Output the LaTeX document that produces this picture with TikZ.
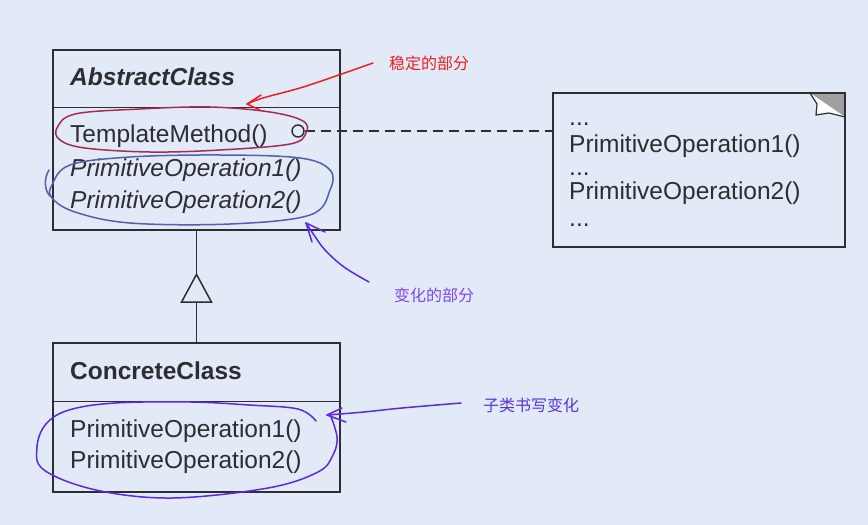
\documentclass[tikz,border=0pt]{standalone}
\usepackage{fontspec}
\setmainfont{Liberation Sans}
\newfontfamily\cjk{Noto Sans CJK SC}
\usetikzlibrary{arrows.meta}
\definecolor{bg}{RGB}{226,233,247}
\definecolor{ink}{RGB}{45,45,50}
\definecolor{penred}{RGB}{238,30,30}
\definecolor{penmaroon}{RGB}{165,45,85}
\definecolor{penblue}{RGB}{85,95,170}
\definecolor{penviolet}{RGB}{90,40,230}
\definecolor{txtviolet}{RGB}{125,70,240}
\definecolor{txtviolet2}{RGB}{90,50,220}
\tikzset{
  umlbox/.style={draw=ink, line width=1.5pt, rectangle, inner sep=0pt},
  lbl/.style={anchor=base west, inner sep=0pt, text=ink, font=\fontsize{24.5}{29}\selectfont},
  note/.style={anchor=west, inner sep=0pt, font=\cjk\fontsize{16}{19}\selectfont},
  pen/.style={line width=1.5pt, line cap=round, line join=round},
}
\begin{document}
\begin{tikzpicture}[x=1pt,y=-1pt]
\fill[bg] (0,0) rectangle (868,525);
\useasboundingbox (0,0) rectangle (868,525);

% AbstractClass box
\node[umlbox, minimum width=287pt, minimum height=180pt] (abs) at (196.5,140) {};
\coordinate (absdl) at (53,107.5);
\coordinate (absdr) at (340,107.5);
\draw[ink, line width=1.5pt] (absdl) -- (absdr);
\node[lbl, font=\fontsize{24.5}{29}\selectfont\bfseries\itshape] (absname) at (70,85) {AbstractClass};
\node[lbl] (tm) at (70,142) {TemplateMethod()};
\node[lbl, font=\fontsize{24.5}{29}\selectfont\itshape] (po1a) at (70,176) {PrimitiveOperation1()};
\node[lbl, font=\fontsize{24.5}{29}\selectfont\itshape] (po2a) at (70,208) {PrimitiveOperation2()};
\node[circle, draw=ink, line width=1.4pt, minimum size=12pt, inner sep=0pt] (tmc) at (298,131) {};

% ConcreteClass box
\node[umlbox, minimum width=287pt, minimum height=149pt] (conc) at (196.5,417.5) {};
\coordinate (condl) at (53,401.5);
\coordinate (condr) at (340,401.5);
\draw[ink, line width=1.5pt] (condl) -- (condr);
\node[lbl, font=\fontsize{24.5}{29}\selectfont\bfseries] (concname) at (70,379) {ConcreteClass};
\node[lbl] (po1c) at (70,437) {PrimitiveOperation1()};
\node[lbl] (po2c) at (70,468) {PrimitiveOperation2()};

% inheritance
\coordinate (apex) at ([yshift=-42pt]abs.south);
\draw[ink, line width=1.5pt] (abs.south) -- (apex);
\draw[ink, line width=1.5pt, -{Triangle[open, length=30pt, width=32pt, line width=1.5pt]}] (conc.north) -- (apex);

% note
\node[umlbox, minimum width=292pt, minimum height=154pt] (nt) at (699,170) {};
\fill[gray!75] (810,93) -- (845,93) -- (845,117) -- cycle;
\draw[ink, line width=1.2pt, fill=white!85!bg] (810,93) -- (817,104) -- (816,115) -- (829,113) -- (845,117);
\draw[ink, line width=1.5pt] (810,93) -- (845,93) -- (845,117);
\node[lbl] (d1) at (569,125) {...};
\node[lbl] (n1) at (569,152) {PrimitiveOperation1()};
\node[lbl] (d2) at (569,175) {...};
\node[lbl] (n2) at (569,199) {PrimitiveOperation2()};
\node[lbl] (d3) at (569,226) {...};
\draw[ink, line width=1.5pt, dash pattern=on 10pt off 6pt] (tmc.east) -- (tmc.east -| nt.west);

% hand annotations
\draw[penmaroon, pen] plot[smooth cycle, tension=0.6] coordinates {(57,128) (75,114) (140,109) (210,107) (270,112) (303,121) (306,133) (290,144) (220,150) (150,152) (85,148) (60,140)};
\draw[penblue, pen] plot[smooth cycle, tension=0.6] coordinates {(52,185) (70,165) (130,157) (220,155) (300,158) (330,170) (330,190) (310,215) (230,224) (130,223) (75,212) (52,198)};
\draw[penblue, pen] (49,170) .. controls (44,178) and (44,190) .. (50,196);

\coordinate (r0) at (373,63);
\coordinate (rt) at (247,104);
\draw[penred, pen] plot[smooth, tension=0.6] coordinates {(r0) (333,77) (300,88) (263,98) (rt)};
\draw[penred, pen] (rt) -- (261,95);
\draw[penred, pen] (rt) -- (260,110);
\node[note, text=penred] (t1) at (389,63) {稳定的部分};

\coordinate (v0) at (369,282);
\coordinate (vt) at (306,223);
\draw[penviolet, pen] plot[smooth, tension=0.6] coordinates {(v0) (344,267) (325,250) (314,235) (vt)};
\draw[penviolet, pen] (vt) -- (325,232);
\draw[penviolet, pen] (vt) -- (312,242);
\node[note, text=txtviolet] (t2) at (394,295) {变化的部分};

\coordinate (s0) at (461,403);
\coordinate (st) at (327,415);
\draw[penviolet, pen] plot[smooth, tension=0.6] coordinates {(s0) (402,408) (364,412) (st)};
\draw[penviolet, pen] (st) -- (342,408);
\draw[penviolet, pen] (st) -- (346,422);
\node[note, text=txtviolet2] (t3) at (483,405) {子类书写变化};

\draw[penviolet, pen] plot[smooth, tension=0.6] coordinates {(330,414) (337,437) (333,455) (318,472) (268,488) (172,498) (96,490) (44,470) (37,447) (46,424) (69,410) (115,403) (191,402) (249,405) (298,409) (316,421)};
\end{tikzpicture}
\end{document}
